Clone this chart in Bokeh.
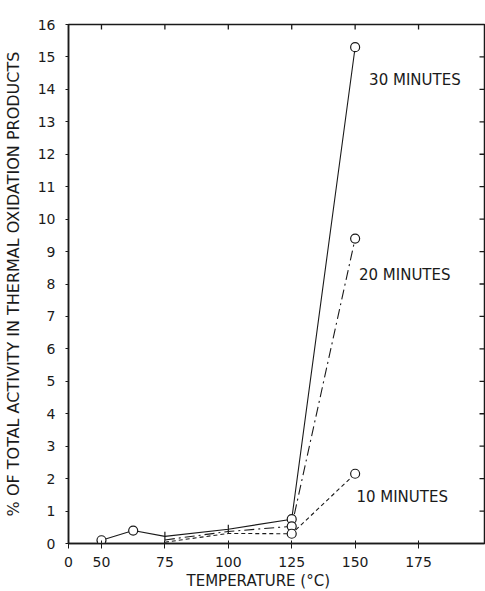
import math
from bokeh.plotting import figure
from bokeh.models import Range1d, FixedTicker, LinearAxis, ColumnDataSource, Title
from bokeh.core.properties import value
from bokeh.embed import file_html
from bokeh.resources import INLINE

# ---- data ----
temp_30 = [50, 62.5, 75, 100, 125, 150]
pct_30 = [0.1, 0.4, 0.22, 0.44, 0.75, 15.3]
temp_20 = [75, 100, 125, 150]
pct_20 = [0.11, 0.37, 0.53, 9.4]
temp_10 = [75, 100, 125, 150]
pct_10 = [0.04, 0.31, 0.3, 2.15]
circle_x_30 = [50, 62.5, 125, 150]
circle_y_30 = [0.1, 0.4, 0.75, 15.3]
tick_x_30 = [75, 100]
tick_y_30 = [0.22, 0.44]
circle_x_20 = [125, 150]
circle_y_20 = [0.53, 9.4]
circle_x_10 = [125, 150]
circle_y_10 = [0.3, 2.15]
series_labels = ["30 MINUTES", "20 MINUTES", "10 MINUTES"]
label_x = [155.5, 151.5, 150.5]
label_y = [14.3, 8.27, 1.43]
x_ticks = [50, 75, 100, 125, 150, 175]
y_ticks = list(range(0, 17))
x_origin = 37.0
x_end = 201.0
y_start, y_end = 0.0, 16.0

FONT = "DejaVu Sans"
INK = "#1a1a1a"

W, H = 485, 591
BL, BR, BT, BB = 66, 1, 24, 48
frame_w = W - BL - BR
frame_h = H - BT - BB
TICK_PX = 5
dx = TICK_PX * (x_end - x_origin) / frame_w
dy = TICK_PX * (y_end - y_start) / frame_h

p = figure(width=W, height=H, output_backend="svg", toolbar_location=None,
           x_range=Range1d(x_origin, x_end), y_range=Range1d(y_start, y_end),
           min_border_left=BL, min_border_right=BR, min_border_top=BT, min_border_bottom=BB,
           x_axis_location=None, y_axis_location=None)
p.outline_line_color = INK
p.outline_line_width = 1.5
p.grid.visible = False
p.background_fill_color = "white"

# bottom axis
xb = LinearAxis(ticker=FixedTicker(ticks=[x_origin] + x_ticks))
xb.major_label_overrides = {x_origin: "0"}
xb.major_tick_in = 3
xb.major_tick_out = 5
xb.minor_tick_line_color = None
xb.axis_line_color = INK
xb.axis_line_width = 1.5
xb.major_tick_line_color = INK
xb.major_label_text_font = FONT
xb.major_label_text_font_size = "14px"
xb.major_label_text_color = INK
xb.major_label_standoff = 8
p.add_layout(xb, "below")

# x-axis title, shifted left of centre as in the original
p.add_layout(Title(text="TEMPERATURE (°C)", align="left", offset=118, standoff=0,
                   text_font=FONT, text_font_size="15px", text_font_style="normal",
                   text_color=INK), "below")

# left axis
yl = LinearAxis(ticker=FixedTicker(ticks=y_ticks))
yl.axis_label = "% OF TOTAL ACTIVITY IN THERMAL OXIDATION PRODUCTS"
yl.axis_label_text_font = FONT
yl.axis_label_text_font_size = "16px"
yl.axis_label_text_font_style = "normal"
yl.axis_label_text_color = INK
yl.axis_label_standoff = 12
yl.major_tick_in = 0
yl.major_tick_out = 3
yl.minor_tick_line_color = None
yl.axis_line_color = INK
yl.axis_line_width = 1.5
yl.major_tick_line_color = INK
yl.major_label_text_font = FONT
yl.major_label_text_font_size = "14px"
yl.major_label_text_color = INK
yl.major_label_standoff = 10
p.add_layout(yl, "left")

# inward ticks on top and right borders
p.segment(x0=x_ticks, y0=[y_end] * len(x_ticks), x1=x_ticks, y1=[y_end - dy] * len(x_ticks),
          line_color=INK, line_width=1.3)
rt = y_ticks[1:-1]
p.segment(x0=[x_end] * len(rt), y0=rt, x1=[x_end - dx] * len(rt), y1=rt,
          line_color=INK, line_width=1.3)

# lines
p.line(temp_30, pct_30, line_color=INK, line_width=1.1)
p.line(temp_20, pct_20, line_color=INK, line_width=1.1, line_dash="10 4 2 4")
p.line(temp_10, pct_10, line_color=INK, line_width=1.1, line_dash="4 3")

# markers
for cx, cy in [(circle_x_30, circle_y_30), (circle_x_20, circle_y_20), (circle_x_10, circle_y_10)]:
    p.scatter(cx, cy, marker="circle", size=9, line_color=INK, line_width=1.2, fill_color="white")
p.scatter(tick_x_30, tick_y_30, marker="dash", angle=math.pi / 2, size=9, line_color=INK, line_width=1.2)

# series labels
src = ColumnDataSource(dict(x=label_x, y=label_y, t=series_labels))
p.text(x="x", y="y", text="t", source=src, text_font=value(FONT), text_font_size="15px",
       text_color=INK, text_align="left", text_baseline="middle")

open("out.html", "w").write(file_html(p, INLINE))
